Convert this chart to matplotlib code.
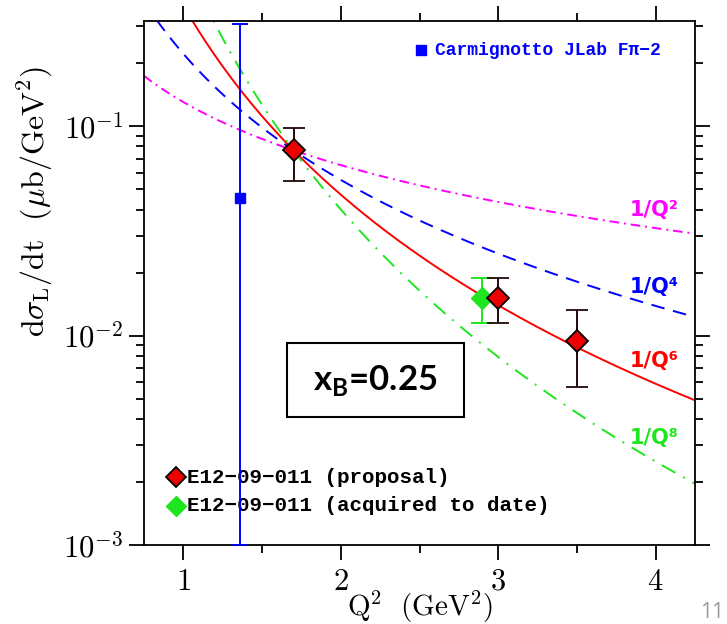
import numpy as np
import matplotlib
matplotlib.use("Agg")
from matplotlib import pyplot as plt
from matplotlib.patches import Rectangle
from matplotlib.ticker import FixedLocator, LogLocator, NullFormatter

plt.rcParams['mathtext.fontset'] = 'cm'
plt.rcParams['font.family'] = 'serif'
plt.rcParams['font.serif'] = ['DejaVu Serif']

# E12-09-011 proposal points
proposal_q2 = [1.7, 3.0, 3.5]
proposal_xs = [0.0767, 0.0151, 0.0094]
proposal_lo = [0.0545, 0.0115, 0.0057]
proposal_hi = [0.098, 0.0188, 0.0132]

# E12-09-011 acquired to date
acquired_q2 = [2.9]
acquired_xs = [0.0151]
acquired_lo = [0.0115]
acquired_hi = [0.0188]

# Carmignotto JLab Fpi-2
carm_q2 = [1.36]
carm_xs = [0.0454]
carm_lo = [0.001]
carm_hi = [0.307]

# 1/Q^n scaling curves, all normalised at the first proposal point
curve_norm_q2 = 1.7
curve_norm_xs = 0.0767
curve_powers = [1, 2, 3, 4]          # powers of Q^2
curve_labels = ['1/Q²', '1/Q⁴', '1/Q⁶', '1/Q⁸']
curve_colours = ['#ff00ff', '#0000ff', '#ff0000', '#1ee61e']
curve_dashes = [(5, 2.5, 1, 2.5), (7, 4.5), (), (8, 4.5, 1, 4.5)]
label_y = [0.0396, 0.0170, 0.0076, 0.00325]

fig = plt.figure(figsize=(7.27, 6.24), dpi=100)
ax = fig.add_axes([144 / 727, 1 - 545 / 624, 551 / 727, 524 / 624])
ax.set_yscale('log')
ax.set_xlim(0.75, 4.25)
ax.set_ylim(1e-3, 0.318)

q2 = np.linspace(0.75, 4.25, 300)
for p, col, d in zip(curve_powers, curve_colours, curve_dashes):
    line, = ax.plot(q2, curve_norm_xs * (curve_norm_q2 / q2) ** p, color=col, lw=1.4)
    if d:
        line.set_dashes(d)

for lab, col, yy in zip(curve_labels, curve_colours, label_y):
    ax.text(3.99, yy, lab, color=col, fontsize=15, fontweight='bold',
            family=['DejaVu Sans'], ha='center', va='center')

# data
ax.errorbar(carm_q2, carm_xs,
            yerr=[np.subtract(carm_xs, carm_lo), np.subtract(carm_hi, carm_xs)],
            fmt='s', color='#0000ff', ms=7, lw=1.4, capsize=6, capthick=1.4,
            clip_on=False, zorder=4)
ax.errorbar(acquired_q2, acquired_xs,
            yerr=[np.subtract(acquired_xs, acquired_lo), np.subtract(acquired_hi, acquired_xs)],
            fmt='D', color='#1ee61e', mfc='#1ee61e', mec='#1ee61e', ms=11, lw=1.4,
            capsize=8, capthick=1.4, zorder=5)
ax.errorbar(proposal_q2, proposal_xs,
            yerr=[np.subtract(proposal_xs, proposal_lo), np.subtract(proposal_hi, proposal_xs)],
            fmt='D', color='#220808', mfc='#ee0000', mec='black', mew=1.3, ms=11, lw=1.4,
            capsize=8, capthick=1.4, zorder=6)

# legends
mono = ['Liberation Mono', 'DejaVu Sans Mono']
ax.plot([0.955], [0.00211], 'D', mfc='#ee0000', mec='black', mew=1.3, ms=10, clip_on=False)
ax.plot([0.955], [0.00154], 'D', mfc='#1ee61e', mec='#1ee61e', ms=10, clip_on=False)
ax.text(1.025, 0.00211, 'E12−09−011 (proposal)', fontsize=15, fontweight='bold',
        family=mono, va='center')
ax.text(1.025, 0.00154, 'E12−09−011 (acquired to date)', fontsize=15, fontweight='bold',
        family=mono, va='center')
ax.plot([2.51], [0.231], 's', color='#0000ff', ms=7)
ax.text(2.6, 0.231, 'Carmignotto JLab Fπ−2', color='#0000ff', fontsize=13,
        fontweight='bold', family=mono, va='center')

# x_B box
fig.patches.append(Rectangle((287 / 727, 1 - 417 / 624), 177 / 727, 74 / 624,
                             transform=fig.transFigure, fill=False, ec='black', lw=1.5))
plt.rcParams['mathtext.bf'] = 'Lato:bold'
fig.text(375.5 / 727, 1 - 380 / 624, r'x$_{\mathbf{B}}$=0.25', fontsize=25,
         fontweight='bold', family=['Lato'], math_fontfamily='custom',
         ha='center', va='center')

# axes styling
ax.xaxis.set_major_locator(FixedLocator([1, 2, 3, 4]))
ax.xaxis.set_minor_locator(FixedLocator([1.5, 2.5, 3.5]))
ax.set_xticklabels(['$1$', '$2$', '$3$', '$4$'])
ax.yaxis.set_major_locator(FixedLocator([1e-3, 1e-2, 1e-1]))
ax.yaxis.set_minor_locator(LogLocator(base=10, subs=np.arange(2, 10), numticks=20))
ax.yaxis.set_minor_formatter(NullFormatter())
ax.set_yticklabels(['$10^{-3}$', '$10^{-2}$', '$10^{-1}$'])
ax.tick_params(which='both', direction='out', top=True, right=True, width=1.3,
               labelsize=22, pad=4)
ax.tick_params(which='major', length=11)
ax.tick_params(which='minor', length=6)
for s in ax.spines.values():
    s.set_linewidth(1.3)

ax.set_xlabel(r'$\mathrm{Q}^2\ \ (\mathrm{GeV}^2)$', fontsize=21, labelpad=-6)
ax.set_ylabel(r'$\mathrm{d}\sigma_{\mathrm{L}}/\mathrm{dt}\ \ (\mu\mathrm{b/GeV}^2)$',
              fontsize=23)
ax.yaxis.set_label_coords(-0.161, 0.655)

fig.text(700 / 727, 1 - 612 / 624, '11', color='#999999', fontsize=15,
         family=['Open Sans'], ha='left', va='center')

fig.savefig('out.png', dpi=100)
